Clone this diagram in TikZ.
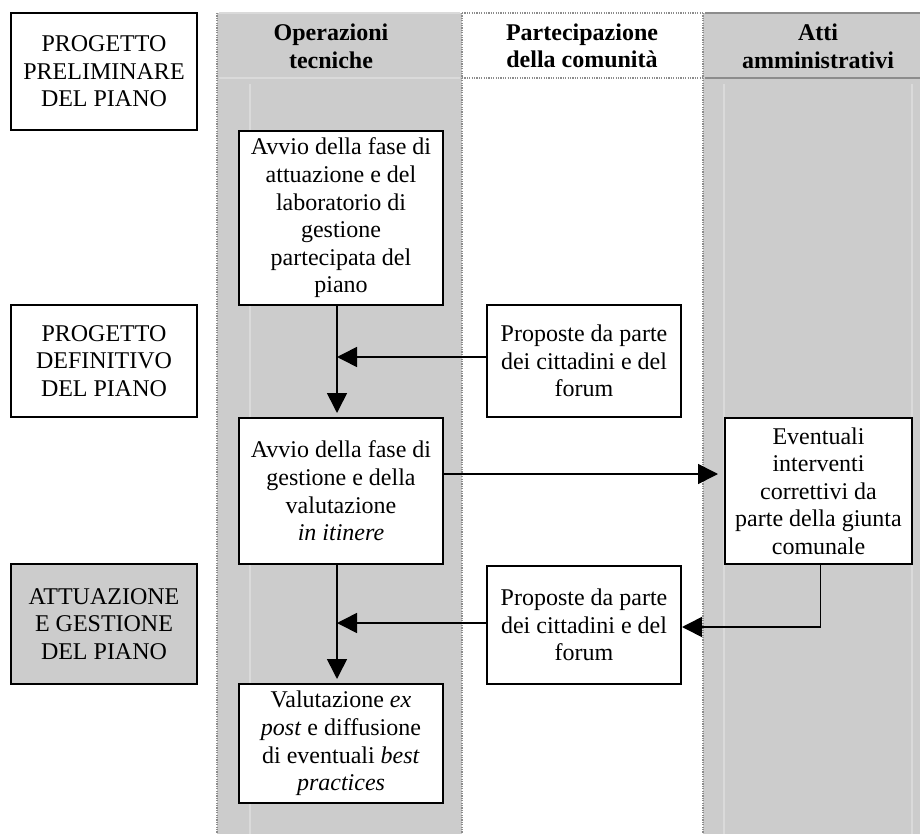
\documentclass[tikz,border=0pt]{standalone}
\usepackage{fontspec}
\setmainfont{Liberation Serif}
\usetikzlibrary{arrows.meta,calc}
\definecolor{grigio}{HTML}{CCCCCC}
\definecolor{bordo}{HTML}{8C8C8C}
\definecolor{chiaro}{HTML}{DADADA}
\tikzset{
	casella/.style={draw, line width=1pt, fill=white, align=center, inner sep=0pt, font=\fontsize{12}{13.8}\selectfont},
	fase/.style={casella, minimum width=93pt},
	tecnica/.style={casella, minimum width=102pt},
	proposta/.style={casella, minimum width=97pt},
	intest/.style={align=center, inner sep=0pt, font=\bfseries\fontsize{12}{13.8}\selectfont},
	freccia/.style={line width=0.8pt, -{Triangle[length=10pt,width=10pt]}},
	confine/.style={bordo, line width=1pt, dash pattern=on 0.6pt off 0.6pt},
}

\begin{document}
\begin{tikzpicture}[x=0.5pt, y=-0.5pt]
			%%%%% START %%%%%
			\useasboundingbox (0, 0) rectangle (920, 834);
			
			\fill[grigio] (217, 13) rectangle (462, 834);
			\fill[grigio] (703, 13) rectangle (920, 834);
			\draw[chiaro, line width=0.6pt] (724, 84) -- (724, 834);
			\draw[chiaro, line width=0.6pt] (912, 84) -- (912, 834);
			\draw[chiaro, line width=0.6pt] (250, 84) -- (250, 834);
			
			\draw[confine] (217, 13) -- (217, 834);
			\draw[confine] (462, 13) -- (462, 834);
			\draw[confine] (703, 13) -- (703, 834);
			\draw[chiaro, line width=0.8pt] (219, 13) -- (460, 13);
			\draw[chiaro, line width=0.8pt] (219, 78) -- (460, 78);
			\draw[confine, line width=0.8pt] (462, 13) -- (703, 13);
			\draw[confine, line width=0.8pt] (462, 78) -- (703, 78);
			\draw[bordo, line width=0.8pt] (705, 13) -- (920, 13);
			\draw[bordo, line width=0.8pt] (705, 78) -- (920, 78);
			
			\node[intest] (htec) at (331, 46) {Operazioni\\tecniche};
			\node[intest] (hpar) at (582, 46) {Partecipazione\\della comunità};
			\node[intest] (hatt) at (818, 46) {Atti\\amministrativi};
			
			\node[fase, minimum height=58.5pt] (prelim) at (104, 71.5) {PROGETTO\\PRELIMINARE\\DEL PIANO};
			\node[fase, minimum height=56pt] (defin) at (104, 361) {PROGETTO\\DEFINITIVO\\DEL PIANO};
			\node[fase, minimum height=60pt, fill=grigio] (attua) at (104, 624) {ATTUAZIONE\\E GESTIONE\\DEL PIANO};
			
			\node[tecnica, minimum height=87pt] (avvio1) at (341, 218) {Avvio della fase di\\attuazione e del\\laboratorio di\\gestione\\partecipata del\\piano};
			\node[tecnica, minimum height=73pt] (avvio2) at (341, 491) {Avvio della fase di\\gestione e della\\valutazione\\\textit{in itinere}};
			\node[tecnica, minimum height=59.5pt] (valut) at (341, 743.5) {Valutazione \textit{ex}\\\textit{post} e diffusione\\di eventuali \textit{best}\\\textit{practices}};
			
			\node[proposta, minimum height=56pt] (prop1) at (584, 361) {Proposte da parte\\dei cittadini e del\\forum};
			\node[proposta, minimum height=59pt] (prop2) at (584, 625) {Proposte da parte\\dei cittadini e del\\forum};
			
			\node[casella, minimum width=93.5pt, minimum height=73pt] (event) at (818.5, 491) {Eventuali\\interventi\\correttivi da\\parte della giunta\\comunale};
			
			\draw[freccia, shorten >=2pt] ([xshift=-2pt]avvio1.south) -- ([xshift=-2pt]avvio2.north);
			\draw[freccia] ([yshift=2pt]prop1.west) -- ([xshift=-2pt,yshift=2pt]avvio1.south |- prop1.west);
			\draw[freccia, shorten >=3pt] ([yshift=8.5pt]avvio2.east) -- ([yshift=8.5pt]event.west);
			\draw[freccia] ([xshift=1pt]event.south) |- ([yshift=-1pt]prop2.east);
			\draw[freccia] ([yshift=1pt]prop2.west) -- ([xshift=-2pt,yshift=1pt]avvio2.south |- prop2.west);
			\draw[freccia, shorten >=2pt] ([xshift=-2pt]avvio2.south) -- ([xshift=-2pt]valut.north);
			
			%%%%% END %%%%%
\end{tikzpicture}
\end{document}
